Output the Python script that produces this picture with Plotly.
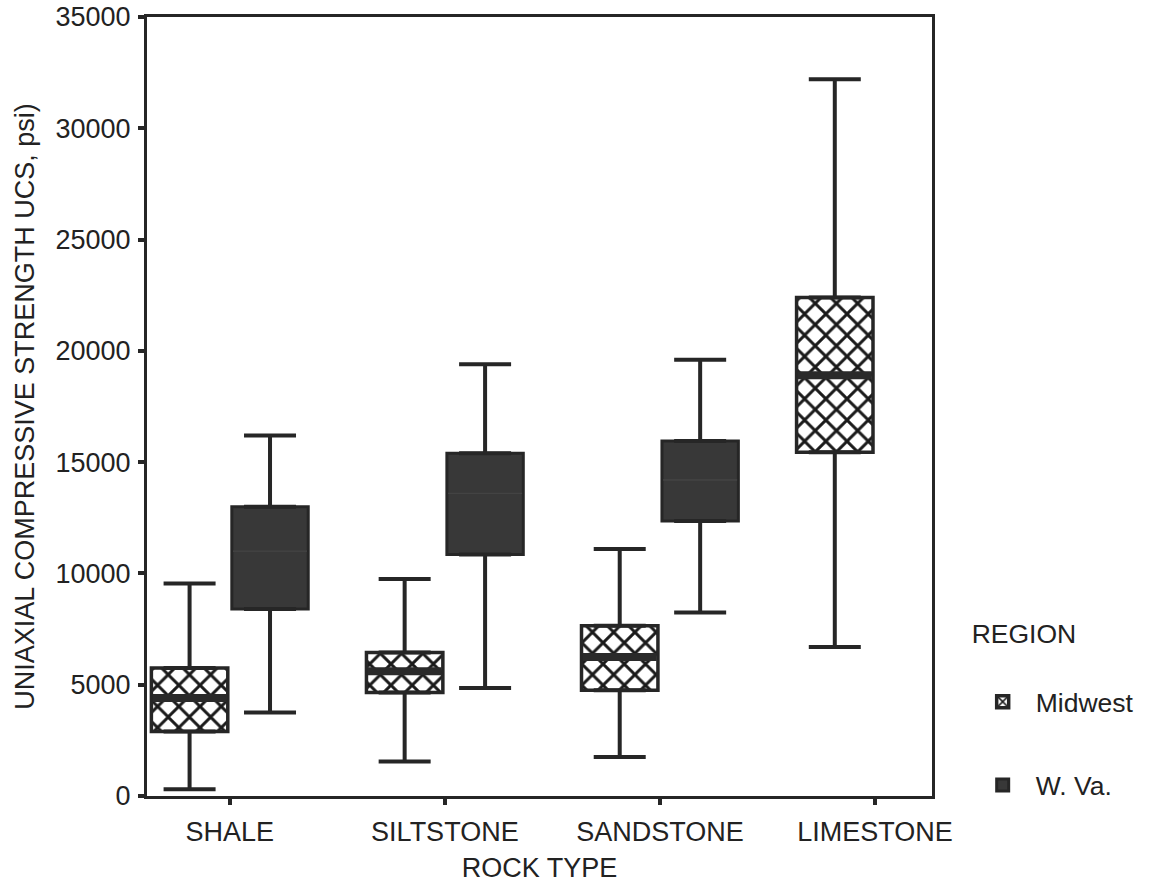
import plotly.graph_objects as go

# ---- data ----
rock_types = ["SHALE", "SILTSTONE", "SANDSTONE", "LIMESTONE"]
wva_types = ["SHALE", "SILTSTONE", "SANDSTONE"]

mw_lower = [300, 1550, 1750, 6700]
mw_q1 = [2900, 4650, 4750, 15450]
mw_median = [4400, 5600, 6250, 18900]
mw_q3 = [5750, 6450, 7650, 22400]
mw_upper = [9550, 9750, 11100, 32200]

wv_lower = [3750, 4850, 8250]
wv_q1 = [8400, 10850, 12350]
wv_median = [11000, 13600, 14200]
wv_q3 = [13000, 15400, 15950]
wv_upper = [16200, 19400, 19600]

y_ticks = [0, 5000, 10000, 15000, 20000, 25000, 30000, 35000]

DARK = "#262626"
FONT = "Liberation Sans, Arial, sans-serif"

fig = go.Figure()


def add_series(name, cats, lower, q1, med, q3, upper, marker, med_color, med_thick):
    n = len(cats)
    zeros = [0] * n
    # box (Q1..Q3)
    fig.add_trace(go.Bar(
        x=cats, y=[b - a for a, b in zip(q1, q3)], base=q1,
        name=name, legendgroup=name, offsetgroup=name,
        marker=marker, hoverinfo="skip"))
    # upper whisker with cap
    fig.add_trace(go.Bar(
        x=cats, y=zeros, base=q3, offsetgroup=name, legendgroup=name,
        showlegend=False, marker=dict(color="rgba(0,0,0,0)", line=dict(width=0)),
        error_y=dict(type="data", symmetric=False,
                     array=[u - t for u, t in zip(upper, q3)], arrayminus=zeros,
                     width=26, thickness=4, color=DARK),
        hoverinfo="skip"))
    # lower whisker with cap
    fig.add_trace(go.Bar(
        x=cats, y=zeros, base=q1, offsetgroup=name, legendgroup=name,
        showlegend=False, marker=dict(color="rgba(0,0,0,0)", line=dict(width=0)),
        error_y=dict(type="data", symmetric=False,
                     array=zeros, arrayminus=[a - l for a, l in zip(q1, lower)],
                     width=26, thickness=4, color=DARK),
        hoverinfo="skip"))
    # median line
    fig.add_trace(go.Bar(
        x=cats, y=zeros, base=med, offsetgroup=name, legendgroup=name,
        showlegend=False, marker=dict(color="rgba(0,0,0,0)", line=dict(width=0)),
        error_y=dict(type="data", symmetric=False, array=zeros, arrayminus=zeros,
                     width=37, thickness=med_thick, color=med_color),
        hoverinfo="skip"))


add_series("Midwest", rock_types, mw_lower, mw_q1, mw_median, mw_q3, mw_upper,
           dict(color="white", line=dict(color=DARK, width=3.5),
                pattern=dict(shape="x", fgcolor="#1a1a1a", bgcolor="white",
                             fgopacity=1, size=15, solidity=0.35,
                             fillmode="overlay")),
           "#2a2a2a", 8)
add_series("W. Va.", wva_types, wv_lower, wv_q1, wv_median, wv_q3, wv_upper,
           dict(color="#383838", line=dict(color=DARK, width=3)),
           "#444444", 1)

fig.update_layout(
    width=1151, height=888,
    margin=dict(l=147, r=212, t=17, b=92),
    paper_bgcolor="white", plot_bgcolor="white",
    barmode="group", bargap=0.252, bargroupgap=0.05,
    font=dict(family=FONT, size=27, color="#222222"),
    showlegend=True,
    legend=dict(
        x=1.048, xanchor="left", y=0.24, yanchor="top",
        title=dict(text="REGION<br> ", font=dict(size=26.5)),
        font=dict(size=26.5), tracegroupgap=46, itemwidth=56,
        bgcolor="rgba(0,0,0,0)",
    ),
)

fig.update_xaxes(
    type="category", categoryorder="array", categoryarray=rock_types,
    range=[-0.385, 3.265], automargin=False,
    showline=True, linecolor=DARK, linewidth=3, mirror=True,
    ticks="outside", ticklen=6, tickwidth=4, tickcolor=DARK,
    showgrid=False, zeroline=False,
    tickfont=dict(size=27), ticklabelstandoff=4,
    title=dict(text="ROCK TYPE", font=dict(size=27), standoff=12),
)
fig.update_yaxes(
    range=[0, 35000], tickmode="array", tickvals=y_ticks, automargin=False,
    ticktext=[str(v) for v in y_ticks],
    showline=True, linecolor=DARK, linewidth=3, mirror=True,
    ticks="outside", ticklen=6, tickwidth=4, tickcolor=DARK,
    showgrid=False, zeroline=False,
    tickfont=dict(size=27), ticklabelstandoff=2,
    title=dict(text="UNIAXIAL COMPRESSIVE STRENGTH UCS, psi)",
               font=dict(size=27), standoff=14),
)

fig.write_html("out.html")
